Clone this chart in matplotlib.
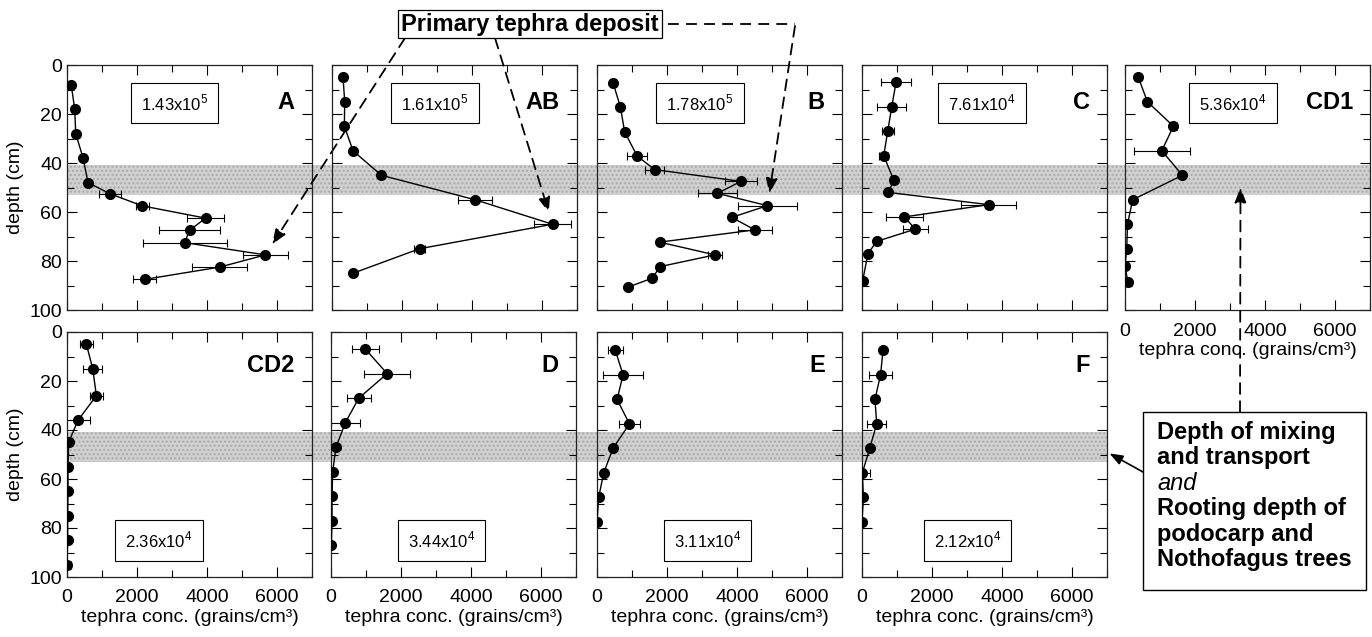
import matplotlib
matplotlib.use('Agg')
import matplotlib.pyplot as plt
from matplotlib.patches import Rectangle
from matplotlib.lines import Line2D
from matplotlib.ticker import MultipleLocator

plt.rcParams['font.family'] = ['Liberation Sans', 'DejaVu Sans']
plt.rcParams['mathtext.fontset'] = 'custom'
plt.rcParams['mathtext.rm'] = 'Liberation Sans'

# tephra concentration profiles (grains/cm3) vs depth (cm)
A_depth = [8, 18, 28, 38, 48, 52.5, 57.5, 62.5, 67.5, 72.5, 77.5, 82.5, 87.5]
A_conc = [120, 220, 250, 460, 600, 1220, 2150, 3960, 3500, 3360, 5670, 4360, 2220]
A_err = [0, 0, 0, 0, 0, 310, 180, 530, 870, 1200, 640, 780, 330]

AB_depth = [5, 15, 25, 35, 45, 55, 65, 75, 85]
AB_conc = [315, 363, 353, 600, 1410, 4090, 6300, 2500, 600]
AB_err = [0, 0, 0, 0, 0, 490, 540, 150, 0]

B_depth = [7.2, 17.2, 27.3, 37.2, 42.7, 47.5, 52.4, 57.4, 62.2, 67.3, 72.3, 77.5, 82.3, 87, 90.7]
B_conc = [458, 670, 790, 1150, 1650, 4110, 3440, 4870, 3850, 4510, 1790, 3370, 1800, 1580, 880]
B_err = [0, 0, 0, 290, 270, 460, 560, 830, 0, 480, 0, 200, 0, 0, 0]

C_depth = [7, 17, 27, 37, 47, 52, 57, 62, 67, 72, 77, 88]
C_conc = [974, 850, 736, 620, 908, 755, 3620, 1213, 1520, 420, 170, 20]
C_err = [430, 410, 170, 130, 100, 0, 790, 525, 360, 0, 0, 0]

CD1_depth = [5, 15, 25, 35, 45, 55, 65, 75, 82, 88.5]
CD1_conc = [380, 640, 1385, 1050, 1640, 220, 70, 50, 0, 80]
CD1_err = [0, 0, 100, 800, 0, 0, 0, 0, 0, 0]

CD2_depth = [5, 15, 26, 36, 45, 55, 65, 75, 85, 95]
CD2_conc = [554, 735, 840, 315, 48, 29, 29, 19, 19, 0]
CD2_err = [190, 270, 180, 330, 0, 0, 0, 0, 0, 100]

D_depth = [7, 17, 27, 37, 47, 57, 67, 77, 87]
D_conc = [984, 1605, 793, 410, 143, 48, 29, 29, 10]
D_err = [390, 660, 350, 410, 0, 0, 0, 0, 0]

E_depth = [7.5, 17.5, 27.5, 37.5, 47.5, 57.5, 67.5, 77.5]
E_conc = [525, 745, 573, 926, 458, 191, 48, 0]
E_err = [210, 570, 0, 300, 0, 0, 0, 0]

F_depth = [7.5, 17.5, 27.5, 37.5, 47.5, 57.5, 67.5, 77.5]
F_conc = [600, 530, 370, 420, 220, 10, 40, 0]
F_err = [0, 330, 0, 270, 0, 215, 0, 80]

sites = ['A', 'AB', 'B', 'C', 'CD1', 'CD2', 'D', 'E', 'F']
totals = ['1.43x10$^5$', '1.61x10$^5$', '1.78x10$^5$', '7.61x10$^4$', '5.36x10$^4$',
          '2.36x10$^4$', '3.44x10$^4$', '3.11x10$^4$', '2.12x10$^4$']
band_top, band_bottom = 41, 53

profiles = {
    'A': (A_conc, A_depth, A_err),
    'AB': (AB_conc, AB_depth, AB_err),
    'B': (B_conc, B_depth, B_err),
    'C': (C_conc, C_depth, C_err),
    'CD1': (CD1_conc, CD1_depth, CD1_err),
    'CD2': (CD2_conc, CD2_depth, CD2_err),
    'D': (D_conc, D_depth, D_err),
    'E': (E_conc, E_depth, E_err),
    'F': (F_conc, F_depth, F_err),
}

W, H = 1372, 637
fig = plt.figure(figsize=(W / 100, H / 100), dpi=100)


def px(x, y):
    return x / W, 1 - y / H


# panel layout in pixels: left, top
layout = {
    'A': (67, 65), 'AB': (332, 65), 'B': (597, 65), 'C': (862, 65), 'CD1': (1125, 65),
    'CD2': (67, 332), 'D': (331, 332), 'E': (597, 332), 'F': (862, 332),
}
box_x = {'A': 0.44, 'AB': 0.42, 'B': 0.42, 'C': 0.49, 'CD1': 0.44,
         'CD2': 0.375, 'D': 0.45, 'E': 0.45, 'F': 0.43}
size = 245

axes = {}
for site, total in zip(sites, totals):
    left, top = layout[site]
    ax = fig.add_axes([left / W, 1 - (top + size) / H, size / W, size / H])
    ax.set_facecolor('none')
    conc, depth, err = profiles[site]
    ax.errorbar(conc, depth, xerr=err, fmt='none', ecolor='k', elinewidth=0.8,
                capsize=3, capthick=0.8, zorder=2)
    ax.plot(conc, depth, '-o', color='k', lw=1.0, ms=7, zorder=3)
    ax.set_xlim(0, 7000)
    ax.set_ylim(100, 0)
    ax.xaxis.set_major_locator(MultipleLocator(2000))
    ax.xaxis.set_minor_locator(MultipleLocator(1000))
    ax.yaxis.set_major_locator(MultipleLocator(20))
    ax.yaxis.set_minor_locator(MultipleLocator(10))
    ax.tick_params(which='both', direction='in', top=True, right=True,
                   labelsize=14, width=0.8)
    ax.tick_params(which='major', length=7)
    ax.tick_params(which='minor', length=5)
    ax.tick_params(axis='x', which='major', pad=9)
    for sp in ax.spines.values():
        sp.set_linewidth(0.9)
        sp.set_color('#222222')

    bottom_row = top > 300
    if site in ('A', 'CD2'):
        ax.set_ylabel('depth (cm)', fontsize=14)
    else:
        ax.tick_params(labelleft=False)
    if bottom_row or site == 'CD1':
        ax.set_xlabel('tephra conc. (grains/cm³)', fontsize=14, labelpad=2)
    else:
        ax.tick_params(labelbottom=False)

    ty = 0.15 if bottom_row else 0.845
    ax.text(box_x[site], ty, total, transform=ax.transAxes, ha='center', va='center',
            fontsize=12, bbox=dict(boxstyle='square,pad=0.6', fc='white', ec='k', lw=0.8),
            zorder=5)
    ax.text(0.93, 0.865 if bottom_row else 0.845, site, transform=ax.transAxes,
            ha='right', va='center', fontsize=17, fontweight='bold')
    axes[site] = ax

fig.canvas.draw()

# grey band: depth of mixing / rooting depth, across each row
inv = fig.transFigure.inverted()
for first, last in (('A', 'CD1'), ('CD2', 'F')):
    a0, a1 = axes[first], axes[last]
    x0 = a0.get_position().x0
    x1 = a1.get_position().x1
    y_top = inv.transform(a0.transData.transform((0, band_top)))[1]
    y_bot = inv.transform(a0.transData.transform((0, band_bottom)))[1]
    fig.patches.append(Rectangle((x0, y_bot), x1 - x0, y_top - y_bot, transform=fig.transFigure,
                                 facecolor='#d0d0d0', edgecolor='#aaaaaa', hatch='....',
                                 lw=0, zorder=-1))

# "Primary tephra deposit" callout
fig.text(*px(530, 24), 'Primary tephra deposit', ha='center', va='center', fontsize=17,
         fontweight='bold', bbox=dict(boxstyle='square,pad=0.12', fc='white', ec='k', lw=0.9))
dash = (0, (6, 4))
arrow = dict(arrowstyle='-|>,head_length=0.9,head_width=0.35', color='k', lw=1.3,
             linestyle=dash, shrinkA=0, shrinkB=9)
axes['A'].annotate('', xy=(A_conc[10], A_depth[10]), xytext=px(405, 38),
                   textcoords=fig.transFigure, arrowprops=arrow, annotation_clip=False)
axes['AB'].annotate('', xy=(AB_conc[6], AB_depth[6]), xytext=px(495, 38),
                    textcoords=fig.transFigure, arrowprops=arrow, annotation_clip=False)
fig.lines.append(Line2D([px(668, 24)[0], px(795, 24)[0]], [px(668, 24)[1], px(795, 24)[1]],
                        transform=fig.transFigure, color='k', lw=1.3, linestyle=dash))
axes['B'].annotate('', xy=(B_conc[7], B_depth[7]), xytext=px(795, 26),
                   textcoords=fig.transFigure, arrowprops=arrow, annotation_clip=False)

# mixing depth callout
fig.patches.append(Rectangle(px(1143, 590), 223 / W, 178 / H, transform=fig.transFigure,
                             facecolor='white', edgecolor='k', lw=1.0, zorder=4))
lines = ['Depth of mixing', 'and transport', 'and', 'Rooting depth of',
         'podocarp and', 'Nothofagus trees']
for i, txt in enumerate(lines):
    fig.text(*px(1157, 432 + 25.5 * i), txt, ha='left', va='center', fontsize=17,
             fontweight='normal' if txt == 'and' else 'bold',
             fontstyle='italic' if txt == 'and' else 'normal', zorder=5)
axes['CD1'].annotate('', xy=(3300, 50), xytext=px(1240, 412),
                     textcoords=fig.transFigure, annotation_clip=False,
                     arrowprops=dict(arrowstyle='-|>,head_length=0.9,head_width=0.35',
                                     color='k', lw=1.3, linestyle=dash, shrinkA=0, shrinkB=0))
axes['F'].annotate('', xy=(7000, 49), xytext=px(1143, 472),
                   textcoords=fig.transFigure, annotation_clip=False,
                   arrowprops=dict(arrowstyle='-|>,head_length=0.8,head_width=0.3',
                                   color='k', lw=1.2, shrinkA=0, shrinkB=2))

fig.savefig('out.png', dpi=100)
